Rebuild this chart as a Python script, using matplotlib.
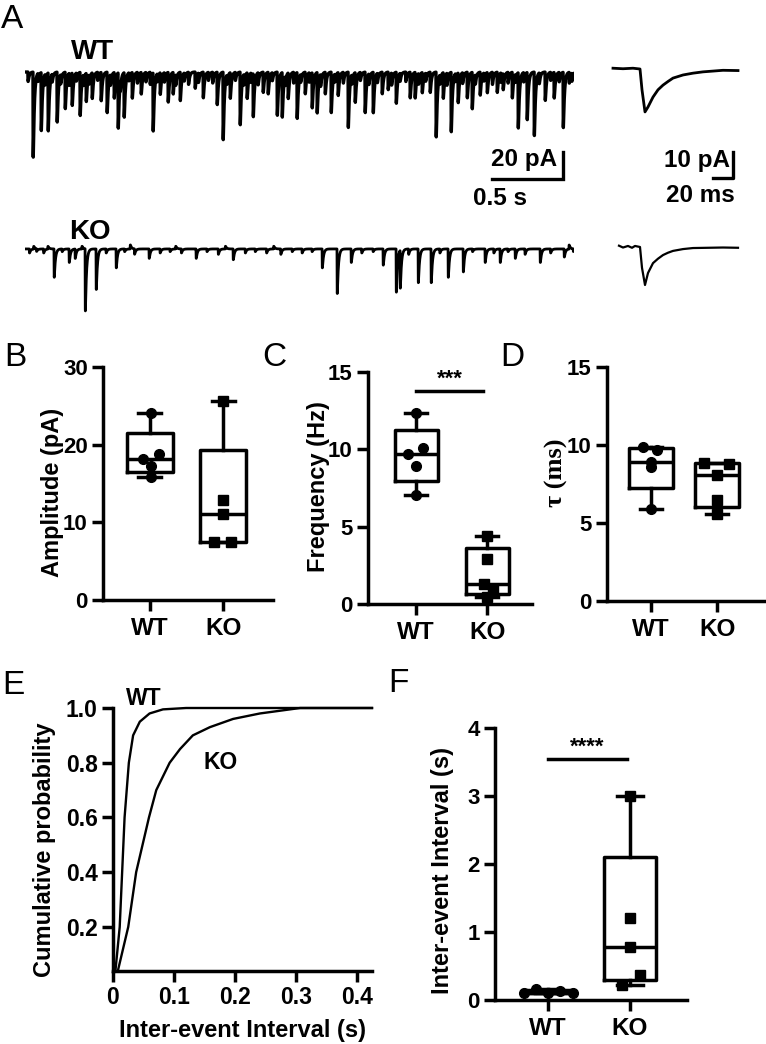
import numpy as np
import matplotlib
matplotlib.use("Agg")
import matplotlib.pyplot as plt

plt.rcParams['font.family'] = ['Liberation Sans', 'DejaVu Sans']
plt.rcParams['font.weight'] = 'bold'

# ---------------- data ----------------
# Panel A: spontaneous events (time s, amplitude pA)
wt_event_t = [0.056, 0.113, 0.162, 0.225, 0.282, 0.331, 0.387, 0.430, 0.472, 0.535,
              0.577, 0.627, 0.655, 0.697, 0.754, 0.817, 0.901, 0.951, 1.007, 1.042,
              1.092, 1.197, 1.254, 1.352, 1.394, 1.444, 1.514, 1.563, 1.606, 1.676,
              1.711, 1.775, 1.810, 1.852, 1.915, 1.972, 2.021, 2.056, 2.113, 2.155,
              2.204, 2.275, 2.324, 2.394, 2.451, 2.514, 2.556, 2.613, 2.711, 2.746,
              2.796, 2.852, 2.894, 2.944, 3.000, 3.049, 3.113, 3.148, 3.204, 3.254,
              3.324, 3.366, 3.430, 3.472, 3.535, 3.585, 3.662, 3.725, 3.789, 3.831]
wt_event_a = [63, 43, 43, 37, 27, 24, 32, 21, 19, 21,
              30, 19, 41, 33, 19, 16, 43, 16, 22, 16,
              21, 12, 19, 24, 50, 19, 39, 19, 32, 15,
              16, 32, 33, 19, 34, 16, 26, 30, 16, 30,
              17, 41, 22, 30, 30, 16, 13, 23, 19, 19,
              15, 15, 48, 19, 44, 22, 19, 27, 17, 15,
              15, 12, 19, 41, 35, 47, 21, 19, 41, 8]
wt_small_t = [0.02, 0.09, 0.14, 0.19, 0.25, 0.31, 0.36, 0.41, 0.45, 0.51, 0.60, 0.67,
              0.73, 0.79, 0.85, 0.88, 0.93, 0.98, 1.06, 1.12, 1.15, 1.22, 1.29, 1.32,
              1.42, 1.48, 1.54, 1.59, 1.64, 1.74, 1.83, 1.89, 1.94, 2.00, 2.08, 2.18,
              2.24, 2.30, 2.36, 2.42, 2.48, 2.58, 2.64, 2.68, 2.77, 2.82, 2.92, 2.97,
              3.03, 3.08, 3.17, 3.23, 3.29, 3.35, 3.40, 3.45, 3.51, 3.62, 3.70, 3.76, 3.85]
wt_small_a = [7, 6, 8, 6, 7, 9, 6, 8, 7, 6, 8, 7,
              6, 8, 7, 9, 6, 7, 8, 6, 9, 7, 6, 8,
              7, 6, 8, 7, 9, 6, 7, 8, 6, 7, 9, 6,
              8, 7, 6, 8, 7, 9, 6, 7, 8, 6, 7, 9,
              6, 8, 7, 6, 9, 7, 8, 6, 7, 8, 6, 7, 6]

ko_event_t = [0.204, 0.310, 0.352, 0.423, 0.500, 0.641, 0.873, 1.204, 1.465, 2.092,
              2.197, 2.296, 2.521, 2.613, 2.641, 2.768, 2.859, 2.979, 3.085, 3.239,
              3.345, 3.451, 3.627, 3.796]
ko_event_a = [21, 10, 7, 46, 30, 14, 7, 7, 8, 14,
              33, 10, 12, 32, 28, 25, 25, 21, 17, 10,
              10, 7, 10, 6]
# small baseline fluctuations (negative = upward deflection)
ko_small_t = [0.03, 0.06, 0.08, 0.13, 0.16, 0.26, 0.40, 0.57, 0.70, 0.74, 0.77, 0.95,
              1.02, 1.06, 1.10, 1.28, 1.36, 1.41, 1.55, 1.62, 1.70, 1.75, 1.80, 1.88,
              1.95, 2.02, 2.37, 2.45, 2.70, 2.92, 3.15, 3.30, 3.40, 3.52, 3.70, 3.83, 3.86]
ko_small_a = [3, -2, 2, 3, -2, 2, -2, 3, 2, -3, 4, 3,
              2, -2, 3, 2, 4, -2, 3, 2, 3, -2, 4, 2,
              3, 2, 3, 2, 4, 3, 2, 3, 2, 4, 3, -3, 2]

# Panel A insets: average events (time ms, current pA)
wt_avg_t = [0, 10, 20, 27, 29, 32, 35, 40, 45, 50, 55, 60, 70, 80, 90, 100, 110, 125]
wt_avg_i = [0.3, 0.1, 0.3, 0.0, -8.0, -16.5, -14.6, -10.8, -8.0, -6.2, -4.8, -3.5,
            -2.3, -1.6, -1.1, -0.8, -0.5, -0.6]
ko_avg_t = [6, 10, 15, 19, 22, 27, 29, 32, 35, 40, 45, 50, 55, 60, 70, 80, 95, 110, 125]
ko_avg_i = [0.5, -0.2, 0.4, -0.3, 0.4, 0.0, -8.0, -14.6, -10.0, -6.2, -4.5, -3.1, -2.2, -1.5,
            -0.8, -0.4, -0.3, -0.2, -0.3]

groups = ["WT", "KO"]

# Panel B: amplitude (pA)
amp_wt = [24.1, 18.8, 18.1, 17.2, 15.8]
amp_wt_dx = [0.02, 0.12, -0.10, 0.02, 0.02]
amp_ko = [25.6, 12.9, 11.1, 7.5, 7.5]
amp_ko_dx = [0.0, 0.0, 0.0, -0.13, 0.10]

# Panel C: frequency (Hz)
freq_wt = [12.35, 10.1, 9.73, 8.9, 7.04]
freq_wt_dx = [0.0, 0.10, -0.12, -0.01, 0.0]
freq_ko = [4.4, 2.9, 1.3, 0.9, 0.45]
freq_ko_dx = [0.0, 0.0, -0.05, 0.08, 0.0]

# Panel D: decay tau (ms)
tau_wt = [9.9, 9.7, 8.9, 8.6, 5.9]
tau_wt_dx = [-0.12, 0.09, 0.0, 0.0, 0.0]
tau_ko = [8.85, 8.8, 8.1, 6.5, 5.55]
tau_ko_dx = [-0.20, 0.18, 0.0, 0.0, 0.0]

# Panel E: cumulative distributions of inter-event interval
cdf_wt_x = [0.004, 0.011, 0.015, 0.019, 0.026, 0.033, 0.044, 0.060, 0.082, 0.12, 0.2, 0.3, 0.425]
cdf_wt_y = [0.04, 0.20, 0.40, 0.60, 0.80, 0.90, 0.95, 0.98, 0.995, 1.0, 1.0, 1.0, 1.0]
cdf_ko_x = [0.008, 0.025, 0.038, 0.059, 0.071, 0.093, 0.110, 0.131, 0.159, 0.197,
            0.241, 0.274, 0.307, 0.425]
cdf_ko_y = [0.04, 0.20, 0.40, 0.60, 0.70, 0.80, 0.85, 0.90, 0.93, 0.96,
            0.98, 0.99, 1.0, 1.0]

# Panel F: inter-event interval (s)
iei_wt = [0.11, 0.16, 0.10, 0.13, 0.10]
iei_wt_dx = [-0.30, -0.15, 0.0, 0.15, 0.30]
iei_ko = [3.0, 1.21, 0.78, 0.37, 0.22]
iei_ko_dx = [0.0, 0.0, 0.0, 0.12, -0.10]

# ---------------- figure ----------------
W, H = 766, 1044
fig = plt.figure(figsize=(W / 100, H / 100), dpi=100)


def px_axes(x0, y0, x1, y1):
    return fig.add_axes([x0 / W, 1 - y1 / H, (x1 - x0) / W, (y1 - y0) / H])


def ftext(x, y, s, **kw):
    fig.text(x / W, 1 - y / H, s, **kw)


LW = 2.5
YT_FS = 16
XT_FS = 17.5
LAB_FS = 17


def style_axes(ax, xfs=XT_FS, yfs=YT_FS):
    for s in ["top", "right"]:
        ax.spines[s].set_visible(False)
    for s in ["left", "bottom"]:
        ax.spines[s].set_linewidth(LW)
    ax.tick_params(width=LW, length=8, pad=3)
    ax.tick_params(axis="x", labelsize=xfs)
    ax.tick_params(axis="y", labelsize=yfs)


def kernel(dt, tr, td):
    d = np.clip(dt, 0, None)
    k = np.where(dt > 0, (1 - np.exp(-d / tr)) * np.exp(-d / td), 0.0)
    tp = tr * np.log((tr + td) / tr)
    peak = (1 - np.exp(-tp / tr)) * np.exp(-tp / td)
    return k / peak


def build_trace(t, times, amps):
    y = np.zeros_like(t)
    for ti, ai in zip(times, amps):
        y -= ai * kernel(t - ti, 0.0008, 0.008)
    return y


t = np.arange(0, 3.866, 0.0002)

# --- Panel A WT trace ---
axw = px_axes(25, 60, 574, 185)
axw.axis("off")
yw = build_trace(t, wt_event_t + wt_small_t, wt_event_a + wt_small_a)
axw.plot(t, yw, color="black", lw=2.4)
axw.set_xlim(0, 3.866)
axw.set_ylim(-83.7, 8.9)
# scale bar 20 pA / 0.5 s
axw.plot([3.289, 3.789, 3.789], [-79.3, -79.3, -59.3], color="black", lw=2.4, clip_on=False,
         solid_joinstyle="miter")
axw.text(3.75, -65, "20 pA", ha="right", va="center", fontsize=17.5, clip_on=False)
axw.text(3.155, -93.5, "0.5 s", ha="left", va="center", fontsize=17.5, clip_on=False)

# --- Panel A KO trace ---
axk = px_axes(25, 238, 574, 318)
axk.axis("off")
yk = build_trace(t, ko_event_t + ko_small_t, ko_event_a + ko_small_a)
axk.plot(t, yk, color="black", lw=2.0)
axk.set_xlim(0, 3.866)
axk.set_ylim(-51.1, 8.1)

# --- insets ---
axiw = px_axes(600, 60, 745, 185)
axiw.axis("off")
axiw.plot(wt_avg_t, wt_avg_i, color="black", lw=2.0)
axiw.set_xlim(-13, 132)
axiw.set_ylim(-44.6, 3.46)
axiw.plot([100, 120, 120], [-41.9, -41.9, -31.9], color="black", lw=2.4, clip_on=False)
axiw.text(117, -35, "10 pA", ha="right", va="center", fontsize=17.5, clip_on=False)
axiw.text(122, -48.5, "20 ms", ha="right", va="center", fontsize=17.5, clip_on=False)

axik = px_axes(600, 238, 745, 318)
axik.axis("off")
axik.plot(ko_avg_t, ko_avg_i, color="black", lw=1.6)
axik.set_xlim(-13, 132)
axik.set_ylim(-27.3, 3.46)

ftext(71, 52, "WT", ha="left", va="center", fontsize=20)
ftext(69, 232, "KO", ha="left", va="center", fontsize=20)


# --- box plot panels ---
def box_panel(ax, wt_vals, wt_dx, ko_vals, ko_dx, box_w):
    stats = []
    for vals in (wt_vals, ko_vals):
        q1, med, q3 = np.percentile(vals, [25, 50, 75], method="weibull")
        stats.append(dict(med=med, q1=q1, q3=q3, whislo=min(vals), whishi=max(vals),
                          fliers=[]))
    ax.bxp(stats, positions=[0, 1], widths=box_w, showfliers=False,
           boxprops=dict(lw=LW, color="black"), medianprops=dict(lw=LW, color="black"),
           whiskerprops=dict(lw=LW, color="black"), capprops=dict(lw=LW, color="black"))
    ax.plot(np.array(wt_dx), wt_vals, "o", color="black", ms=7, ls="none", zorder=5,
            clip_on=False)
    ax.plot(1 + np.array(ko_dx), ko_vals, "s", color="black", ms=6.5, ls="none", zorder=5,
            clip_on=False)
    ax.set_xticks([0, 1])
    ax.set_xticklabels(groups)
    style_axes(ax)
    ax.tick_params(axis="x", pad=4)


# Panel B
axB = px_axes(103, 367, 273, 600)
box_panel(axB, amp_wt, amp_wt_dx, amp_ko, amp_ko_dx, 0.63)
axB.set_xlim(-0.64, 1.68)
axB.set_ylim(0, 30)
axB.set_yticks([0, 10, 20, 30])
ftext(52, 492, "Amplitude (pA)", rotation=90, ha="center", va="center", fontsize=LAB_FS)

# Panel C
axC = px_axes(368, 372, 532, 604)
box_panel(axC, freq_wt, freq_wt_dx, freq_ko, freq_ko_dx, 0.61)
axC.set_xlim(-0.68, 1.63)
axC.set_ylim(0, 15)
axC.set_yticks([0, 5, 10, 15])
axC.plot([0, 0.94], [13.8, 13.8], color="black", lw=LW)
axC.text(0.47, 13.85, "***", ha="center", va="bottom", fontsize=16)
ftext(318, 487, "Frequency (Hz)", rotation=90, ha="center", va="center", fontsize=LAB_FS)

# Panel D
axD = px_axes(607, 367, 764, 601)
box_panel(axD, tau_wt, tau_wt_dx, tau_ko, tau_ko_dx, 0.67)
axD.set_xlim(-0.67, 1.71)
axD.set_ylim(0, 15)
axD.set_yticks([0, 5, 10, 15])
ftext(556, 473, "τ (ms)", rotation=90, ha="center", va="center", fontsize=19,
      family=["Liberation Serif", "DejaVu Serif"], fontweight="bold")

# Panel E
axE = px_axes(113, 708, 372, 971)
axE.plot(cdf_wt_x, cdf_wt_y, color="black", lw=1.7, clip_on=False)
axE.plot(cdf_ko_x, cdf_ko_y, color="black", lw=1.7, clip_on=False)
axE.set_xlim(0, 0.425)
axE.set_ylim(0.039, 1.0)
axE.set_xticks([0, 0.1, 0.2, 0.3, 0.4])
axE.set_xticklabels(["0", "0.1", "0.2", "0.3", "0.4"])
axE.set_yticks([0.2, 0.4, 0.6, 0.8, 1.0])
axE.set_yticklabels(["0.2", "0.4", "0.6", "0.8", "1.0"])
style_axes(axE, xfs=16.5, yfs=16.5)
axE.text(0.05, 1.035, "WT", ha="center", va="center", fontsize=16.5)
axE.text(0.177, 0.80, "KO", ha="center", va="center", fontsize=16.5)
ftext(45, 850, "Cumulative probability", rotation=90, ha="center", va="center", fontsize=LAB_FS)
ftext(242, 1031, "Inter-event Interval (s)", ha="center", va="center", fontsize=LAB_FS)

# Panel F
axF = px_axes(495, 728, 687, 1000)
box_panel(axF, iei_wt, iei_wt_dx, iei_ko, iei_ko_dx, 0.64)
axF.set_xlim(-0.65, 1.70)
axF.set_ylim(0, 4)
axF.set_yticks([0, 1, 2, 3, 4])
axF.plot([0, 0.96], [3.54, 3.54], color="black", lw=LW)
axF.text(0.48, 3.56, "****", ha="center", va="bottom", fontsize=16)
ftext(442, 870, "Inter-event Interval (s)", rotation=90, ha="center", va="center",
      fontsize=LAB_FS)

# Panel letters
for lx, ly, s in [(1, 4, "A"), (4, 342, "B"), (262, 342, "C"), (500, 342, "D"),
                  (2, 670, "E"), (388, 668, "F")]:
    ftext(lx, ly, s, ha="left", va="top", fontsize=24, fontweight="normal")

fig.savefig("out.png", dpi=100)
